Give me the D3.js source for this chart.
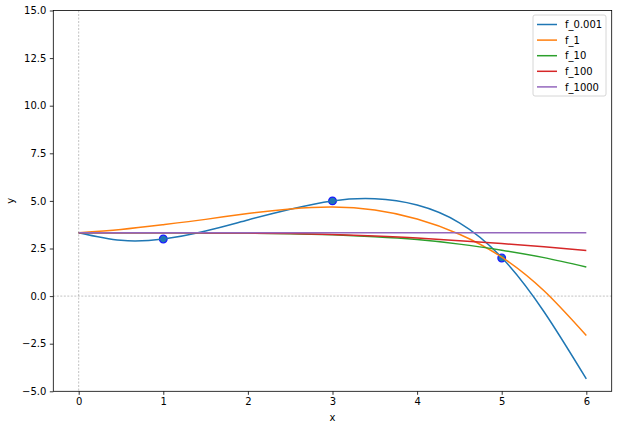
<!DOCTYPE html>
<html>
<head>
<meta charset="utf-8">
<script src="https://cdn.jsdelivr.net/npm/d3@7"></script>
<style>
  body { margin: 0; background: #fff; }
  svg { font-family: "DejaVu Sans", sans-serif; }
</style>
</head>
<body>
<div id="chart"></div>
<script>
// sample positions along x
const xs = [0, 0.5, 1, 1.5, 2, 2.5, 3, 3.5, 4, 4.5, 5, 5.5, 6];
const f0001 = [3.33, 2.93, 3.0, 3.42, 4.0, 4.56, 5.0, 5.11, 4.78, 3.85, 2.03, -0.82, -4.35];
const f1 = [3.33, 3.5, 3.75, 4.03, 4.34, 4.58, 4.68, 4.52, 4.05, 3.25, 2.05, 0.28, -2.07];
const f10 = [3.33, 3.33, 3.33, 3.32, 3.31, 3.28, 3.22, 3.12, 2.97, 2.73, 2.41, 2.02, 1.53];
const f100 = [3.33, 3.33, 3.33, 3.32, 3.31, 3.29, 3.23, 3.15, 3.05, 2.91, 2.76, 2.59, 2.4];
const f1000 = [3.33, 3.33, 3.33, 3.33, 3.33, 3.33, 3.33, 3.33, 3.33, 3.33, 3.33, 3.33, 3.33];
const seriesNames = ['f_0.001', 'f_1', 'f_10', 'f_100', 'f_1000'];
const seriesValues = [f0001, f1, f10, f100, f1000];
const colors = ['#1f77b4', '#ff7f0e', '#2ca02c', '#d62728', '#9467bd'];

// observed points
const pointX = [1, 3, 5];
const pointY = [3, 5, 2];

const xTicks = [0, 1, 2, 3, 4, 5, 6];
const yTicks = [-5, -2.5, 0, 2.5, 5, 7.5, 10, 12.5, 15];

const width = 617, height = 429;
const box = { left: 53.3, right: 611.7, top: 10.5, bottom: 391.3 };

const svg = d3.select('#chart').append('svg')
  .attr('width', width)
  .attr('height', height);

const x = d3.scaleLinear().domain([-0.3, 6.3]).range([box.left, box.right]);
const y = d3.scaleLinear().domain([-5, 15]).range([box.bottom, box.top]);

svg.append('defs').append('clipPath').attr('id', 'clip')
  .append('rect')
  .attr('x', box.left).attr('y', box.top)
  .attr('width', box.right - box.left).attr('height', box.bottom - box.top);

// zero reference lines
svg.append('line')
  .attr('x1', x(0)).attr('x2', x(0))
  .attr('y1', box.top).attr('y2', box.bottom)
  .attr('stroke', '#999').attr('stroke-width', 0.6)
  .attr('stroke-dasharray', '2,1.5');
svg.append('line')
  .attr('x1', box.left).attr('x2', box.right)
  .attr('y1', y(0)).attr('y2', y(0))
  .attr('stroke', '#999').attr('stroke-width', 0.6)
  .attr('stroke-dasharray', '2,1.5');

const plot = svg.append('g').attr('clip-path', 'url(#clip)');

// scatter sits under the lines
plot.selectAll('circle.pt')
  .data(pointX.map((px, i) => ({ x: px, y: pointY[i] })))
  .enter()
  .append('circle')
  .attr('class', 'pt')
  .attr('cx', (d) => x(d.x))
  .attr('cy', (d) => y(d.y))
  .attr('r', 3.8)
  .attr('fill', '#1f77b4')
  .attr('stroke', '#1a1aff')
  .attr('stroke-width', 1.3);

const line = d3.line()
  .x((d) => x(d[0]))
  .y((d) => y(d[1]))
  .curve(d3.curveNatural);

seriesValues.forEach((vals, i) => {
  plot.append('path')
    .datum(xs.map((v, j) => [v, vals[j]]))
    .attr('d', line)
    .attr('fill', 'none')
    .attr('stroke', colors[i])
    .attr('stroke-width', 1.5);
});

// axes
const xAxis = svg.append('g')
  .attr('transform', `translate(0,${box.bottom})`)
  .call(d3.axisBottom(x).tickValues(xTicks).tickSize(3.5).tickPadding(3.5).tickFormat(d3.format('d')));
const yAxis = svg.append('g')
  .attr('transform', `translate(${box.left},0)`)
  .call(d3.axisLeft(y).tickValues(yTicks).tickSize(3.5).tickPadding(3.5).tickFormat(d3.format('.1f')));

[xAxis, yAxis].forEach((g) => {
  g.select('.domain').remove();
  g.selectAll('.tick line').attr('stroke', '#000').attr('stroke-width', 0.8);
  g.selectAll('.tick text').attr('font-size', 10).attr('fill', '#000')
    .attr('font-family', '"DejaVu Sans", sans-serif');
});
yAxis.selectAll('.tick text').text((d) => d3.format('.1f')(d).replace('-', '\u2212'));

// frame
svg.append('rect')
  .attr('x', box.left).attr('y', box.top)
  .attr('width', box.right - box.left).attr('height', box.bottom - box.top)
  .attr('fill', 'none').attr('stroke', '#000').attr('stroke-width', 0.8);

// axis labels
svg.append('text')
  .attr('x', (box.left + box.right) / 2).attr('y', 421)
  .attr('text-anchor', 'middle').attr('font-size', 10)
  .text('x');
svg.append('text')
  .attr('transform', `translate(14,${(box.top + box.bottom) / 2}) rotate(-90)`)
  .attr('text-anchor', 'middle').attr('font-size', 10)
  .text('y');

// legend
const legend = svg.append('g').attr('transform', 'translate(533,15)');
legend.append('rect')
  .attr('width', 73).attr('height', 81)
  .attr('rx', 2)
  .attr('fill', '#fff').attr('fill-opacity', 0.8)
  .attr('stroke', '#ccc').attr('stroke-width', 0.8);
seriesNames.forEach((name, i) => {
  const row = legend.append('g').attr('transform', `translate(0,${9.5 + i * 15.6})`);
  row.append('line')
    .attr('x1', 4).attr('x2', 24)
    .attr('stroke', colors[i]).attr('stroke-width', 1.5);
  row.append('text')
    .attr('x', 32).attr('y', 3.6)
    .attr('font-size', 10)
    .text(name);
});
</script>
</body>
</html>
